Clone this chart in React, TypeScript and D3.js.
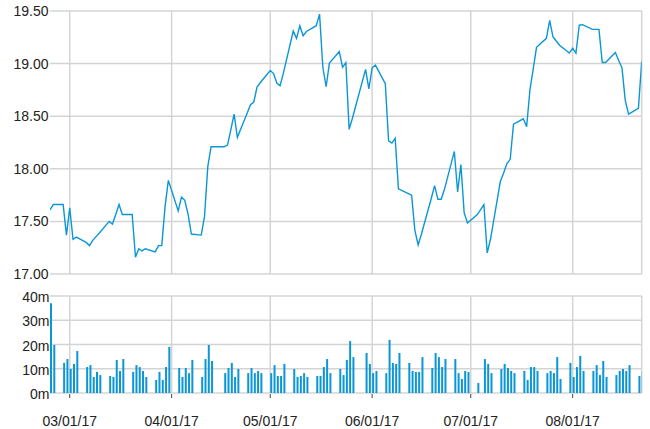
import React from "react";
import * as d3 from "d3";

const dates: string[] = [
  "2017-02-23","2017-02-24","2017-02-27","2017-02-28","2017-03-01","2017-03-02","2017-03-03",
  "2017-03-06","2017-03-07","2017-03-08","2017-03-09","2017-03-10",
  "2017-03-13","2017-03-14","2017-03-15","2017-03-16","2017-03-17",
  "2017-03-20","2017-03-21","2017-03-22","2017-03-23","2017-03-24",
  "2017-03-27","2017-03-28","2017-03-29","2017-03-30","2017-03-31",
  "2017-04-03","2017-04-04","2017-04-05","2017-04-06","2017-04-07",
  "2017-04-10","2017-04-11","2017-04-12","2017-04-13",
  "2017-04-17","2017-04-18","2017-04-19","2017-04-20","2017-04-21",
  "2017-04-24","2017-04-25","2017-04-26","2017-04-27","2017-04-28",
  "2017-05-01","2017-05-02","2017-05-03","2017-05-04","2017-05-05",
  "2017-05-08","2017-05-09","2017-05-10","2017-05-11","2017-05-12",
  "2017-05-15","2017-05-16","2017-05-17","2017-05-18","2017-05-19",
  "2017-05-22","2017-05-23","2017-05-24","2017-05-25","2017-05-26",
  "2017-05-30","2017-05-31","2017-06-01","2017-06-02",
  "2017-06-05","2017-06-06","2017-06-07","2017-06-08","2017-06-09",
  "2017-06-12","2017-06-13","2017-06-14","2017-06-15","2017-06-16",
  "2017-06-19","2017-06-20","2017-06-21","2017-06-22","2017-06-23",
  "2017-06-26","2017-06-27","2017-06-28","2017-06-29","2017-06-30",
  "2017-07-03","2017-07-05","2017-07-06","2017-07-07",
  "2017-07-10","2017-07-11","2017-07-12","2017-07-13","2017-07-14",
  "2017-07-17","2017-07-18","2017-07-19","2017-07-20","2017-07-21",
  "2017-07-24","2017-07-25","2017-07-26","2017-07-27","2017-07-28",
  "2017-07-31","2017-08-01","2017-08-02","2017-08-03","2017-08-04",
  "2017-08-07","2017-08-08","2017-08-09","2017-08-10","2017-08-11",
  "2017-08-14","2017-08-15","2017-08-16","2017-08-17","2017-08-18",
  "2017-08-21","2017-08-22",
];

const closePrices: number[] = [
  17.61, 17.66, 17.66, 17.37, 17.63, 17.33, 17.35,
  17.30, 17.27, 17.32, 17.355, 17.39,
  17.50, 17.475, 17.565, 17.66, 17.565,
  17.565, 17.16, 17.24, 17.22, 17.24,
  17.21, 17.27, 17.27, 17.64, 17.89,
  17.60, 17.73, 17.70, 17.57, 17.38,
  17.37, 17.545, 18.02, 18.21,
  18.21, 18.225, 18.37, 18.52, 18.30,
  18.53, 18.61, 18.635, 18.78, 18.82,
  18.935, 18.905, 18.815, 18.79, 18.91,
  19.31, 19.24, 19.36, 19.265, 19.305,
  19.36, 19.47, 18.965, 18.78, 19.005,
  19.115, 18.965, 19.01, 18.375, 18.48,
  18.945, 18.76, 18.96, 18.985,
  18.81, 18.265, 18.245, 18.29, 17.81,
  17.765, 17.75, 17.415, 17.276, 17.38,
  17.72, 17.84, 17.71, 17.71, 17.805,
  18.165, 17.78, 18.04, 17.58, 17.485,
  17.565, 17.66, 17.20, 17.33,
  17.88, 17.96, 18.05, 18.09, 18.425,
  18.475, 18.40, 18.75, 18.95, 19.155,
  19.24, 19.41, 19.255, 19.215, 19.175,
  19.10, 19.145, 19.10, 19.365, 19.37,
  19.325, 19.325, 19.325, 19.01, 19.01,
  19.105, 19.03, 18.96, 18.65, 18.52,
  18.575, 19.02,
];

// volume in millions
const volumes: number[] = [
  37, 19.8, 12.4, 14, 9.9, 12, 17.3,
  10.7, 11.5, 6.6, 8.7, 7.4,
  7, 6.6, 13.6, 9.1, 14,
  8.7, 11.5, 10.7, 9.1, 6.6,
  5.4, 8.7, 5.4, 10.7, 19,
  10.3, 6.6, 10.3, 8.2, 13.6,
  6.6, 14, 19.8, 13.2,
  8.2, 10.3, 12.4, 6.6, 9.9,
  8.2, 10.3, 8.2, 9.1, 8.2,
  8.2, 11.5, 7, 7, 12,
  9.9, 6.6, 7, 8.2, 6.6,
  7, 7, 10.7, 14, 8.2,
  9.9, 7.4, 13.6, 21.4, 14.8,
  16.5, 12, 8.2, 9.1,
  8.2, 21.9, 12.4, 12, 16.5,
  12.4, 9.1, 8.7, 8.7, 14.8,
  10.3, 16.5, 14.8, 10.7, 14,
  14, 8.2, 5.8, 9.1, 8.7,
  4.1, 14, 12, 8.2,
  9.9, 12, 10.3, 9.1, 8.2,
  9.1, 5.4, 10.7, 10.7, 9.1,
  8.2, 9.1, 8.2, 14.8, 5.8,
  12.4, 6.6, 10.7, 15.3, 9.1,
  9.1, 11.5, 7.4, 13.2, 6.6,
  7.4, 9.1, 9.9, 9.1, 11.5,
  7, 9,
];

const priceTicks: number[] = [17, 17.5, 18, 18.5, 19, 19.5];
const volumeTicks: number[] = [0, 10, 20, 30, 40];
const monthTicks: string[] = ["2017-03-01", "2017-04-01", "2017-05-01", "2017-06-01", "2017-07-01", "2017-08-01"];
const domainDates: string[] = ["2017-02-23", "2017-08-22"];

const W = 650;
const H = 429;
const left = 50;
const right = 641.7;
const priceTop = 11;
const priceBottom = 274;
const volTop = 296;
const volBottom = 393;

const COLOR = "#0b96d6";
const GRID = "#d4d4d4";
const FONT = "'Liberation Sans', Arial, sans-serif";

const parse = d3.utcParse("%Y-%m-%d");
const fmt = d3.utcFormat("%m/%d/%y");

export default function App() {
  const parsed = dates.map((d) => parse(d) as Date);
  const x = d3
    .scaleUtc()
    .domain(domainDates.map((d) => parse(d) as Date))
    .range([left, right]);
  const yP = d3.scaleLinear().domain([17, 19.5]).range([priceBottom, priceTop]);
  const yV = d3.scaleLinear().domain([0, 40]).range([volBottom, volTop]);

  const line = d3
    .line<number>()
    .x((_, i) => x(parsed[i]))
    .y((v) => yP(v));

  const months = monthTicks.map((d) => parse(d) as Date);

  return (
    <div style={{ position: "fixed", left: 0, top: 0 }}>
      <svg width={W} height={H} style={{ display: "block", background: "#fff" }} fontFamily={FONT}>
        <defs>
          <clipPath id="clipP">
            <rect x={left} y={0} width={right - left} height={priceBottom + 2} />
          </clipPath>
          <clipPath id="clipV">
            <rect x={left} y={volTop - 2} width={right - left} height={volBottom - volTop + 2} />
          </clipPath>
        </defs>

        {/* price grid */}
        {priceTicks.map((t) => (
          <line key={"pg" + t} x1={left} x2={right} y1={yP(t)} y2={yP(t)} stroke={GRID} strokeWidth={1.5} />
        ))}
        {months.map((m, i) => (
          <line key={"pv" + i} x1={x(m)} x2={x(m)} y1={priceTop} y2={priceBottom} stroke={GRID} strokeWidth={1.5} />
        ))}
        <line x1={right} x2={right} y1={priceTop} y2={priceBottom} stroke={GRID} strokeWidth={1.5} />

        {/* volume grid */}
        {volumeTicks.map((t) => (
          <line key={"vg" + t} x1={left} x2={right} y1={yV(t)} y2={yV(t)} stroke={GRID} strokeWidth={1.5} />
        ))}
        {months.map((m, i) => (
          <line key={"vv" + i} x1={x(m)} x2={x(m)} y1={volTop} y2={volBottom} stroke={GRID} strokeWidth={1.5} />
        ))}
        <line x1={right} x2={right} y1={volTop} y2={volBottom} stroke={GRID} strokeWidth={1.5} />

        {/* price line */}
        <g clipPath="url(#clipP)">
          <path d={line(closePrices) || ""} fill="none" stroke={COLOR} strokeWidth={1.4} strokeLinejoin="miter" />
        </g>

        {/* volume bars */}
        <g clipPath="url(#clipV)">
          {volumes.map((v, i) => (
            <rect key={"b" + i} x={x(parsed[i])} y={yV(v)} width={2} height={yV(0) - yV(v)} fill={COLOR} />
          ))}
        </g>

        {/* axes labels */}
        {priceTicks.map((t) => (
          <text key={"pl" + t} x={48.5} y={yP(t) + 5} textAnchor="end" fontSize={14} fill="#222">
            {t.toFixed(2)}
          </text>
        ))}
        {volumeTicks.map((t) => (
          <text key={"vl" + t} x={49.5} y={yV(t) + 6} textAnchor="end" fontSize={14} fill="#222">
            {t + "m"}
          </text>
        ))}
        {months.map((m, i) => (
          <g key={"xt" + i}>
            <line x1={x(m)} x2={x(m)} y1={volBottom + 1} y2={volBottom + 5} stroke="#444" strokeWidth={1} />
            <text x={x(m)} y={426} textAnchor="middle" fontSize={14} fill="#222">
              {fmt(m)}
            </text>
          </g>
        ))}
      </svg>
    </div>
  );
}
